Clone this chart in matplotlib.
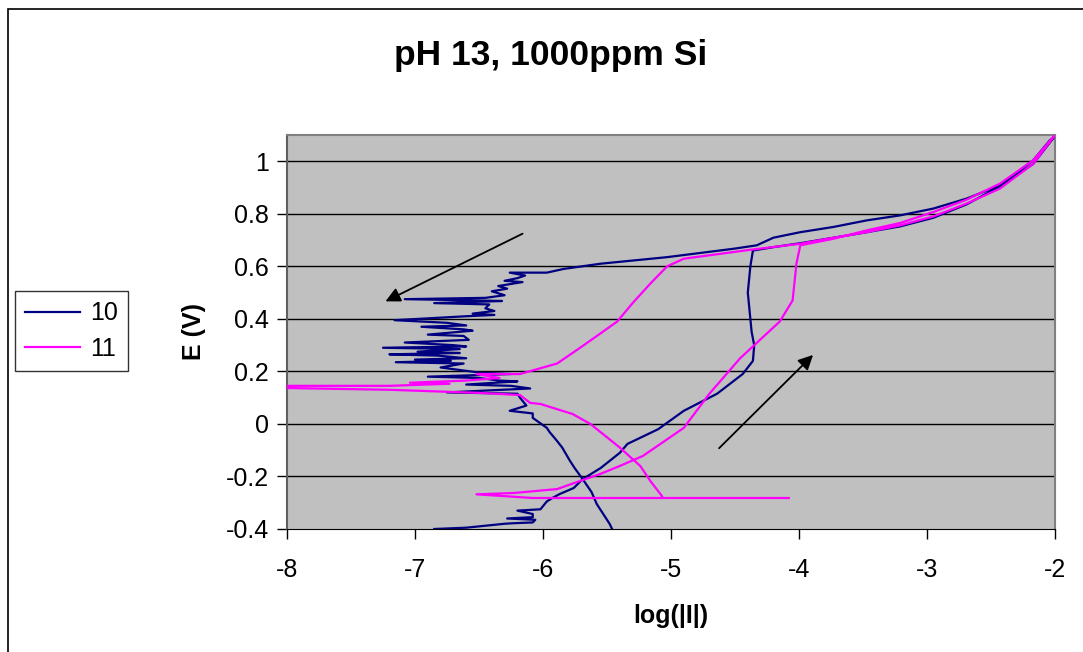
import matplotlib
matplotlib.use("Agg")
import matplotlib.pyplot as plt
from matplotlib.patches import Rectangle

plt.rcParams['font.family'] = ['Liberation Sans', 'DejaVu Sans']

# curve "10" (navy): forward scan from -0.4 V, then reverse scan back down
logI_10 = [-6.85, -6.6, -6.3, -6.23, -6.08, -6.06, -6.28, -6.08, -6.08, -6.2, -6.02, -5.97,
           -5.92, -5.87, -5.76, -5.69, -5.55, -5.4, -5.34, -5.1, -4.9, -4.64, -4.44, -4.36,
           -4.35, -4.37, -4.38, -4.39, -4.4, -4.39, -4.38, -4.36,
           -4.2, -3.99, -3.73, -3.47, -3.21, -2.95, -2.69, -2.43, -2.17, -2.01,
           -2.04, -2.17, -2.43, -2.69, -2.95, -3.21, -3.47, -3.73, -3.99, -4.2, -4.33, -4.51,
           -5.03, -5.55, -5.84, -5.97, -6.26, -6.14, -6.2, -6.3, -6.16, -6.35, -6.28, -6.4,
           -6.3, -6.45, -7.08, -6.5, -6.32, -6.85, -6.42, -6.45, -6.38, -6.55, -6.38, -6.6,
           -7.16, -6.75, -6.6, -6.95, -6.62, -6.55, -6.9, -6.62, -6.58, -7.08, -6.7, -6.6,
           -7.25, -6.65, -6.98, -6.65, -7.2, -6.82, -6.6, -7.0, -6.72, -7.15, -6.62, -6.8,
           -6.49, -6.25, -6.9, -6.5, -6.34, -6.2, -6.6, -6.25, -6.1, -6.75, -6.2, -6.18,
           -6.13, -6.26, -6.08, -6.08, -5.97, -5.95, -5.89, -5.85, -5.79, -5.75, -5.69, -5.62,
           -5.58, -5.52, -5.48, -5.46]
E_10 = [-0.40, -0.395, -0.38, -0.378, -0.375, -0.365, -0.36, -0.355, -0.343, -0.33, -0.325, -0.295,
        -0.28, -0.267, -0.244, -0.21, -0.168, -0.11, -0.076, -0.02, 0.05, 0.115, 0.19, 0.24,
        0.30, 0.35, 0.40, 0.45, 0.50, 0.55, 0.60, 0.66,
        0.673, 0.688, 0.709, 0.73, 0.752, 0.785, 0.836, 0.905, 0.99, 1.09,
        1.08, 1.004, 0.908, 0.858, 0.82, 0.794, 0.775, 0.75, 0.73, 0.709, 0.68, 0.667,
        0.635, 0.61, 0.59, 0.576, 0.576, 0.565, 0.555, 0.545, 0.54, 0.525, 0.515, 0.505,
        0.49, 0.48, 0.475, 0.47, 0.468, 0.46, 0.455, 0.44, 0.43, 0.42, 0.415, 0.41,
        0.395, 0.385, 0.375, 0.37, 0.36, 0.355, 0.34, 0.335, 0.32, 0.31, 0.30, 0.295,
        0.29, 0.285, 0.275, 0.27, 0.265, 0.26, 0.25, 0.245, 0.24, 0.235, 0.23, 0.215,
        0.195, 0.19, 0.18, 0.175, 0.165, 0.162, 0.15, 0.145, 0.135, 0.12, 0.115, 0.10,
        0.07, 0.05, 0.04, 0.023, -0.015, -0.03, -0.065, -0.09, -0.14, -0.17, -0.21, -0.26,
        -0.305, -0.35, -0.38, -0.40]

# curve "11" (magenta)
logI_11 = [-4.08, -6.08, -6.52, -6.23, -5.89, -5.71, -5.55, -5.4, -5.22, -4.9, -4.7, -4.46,
           -4.15, -4.05, -4.02, -3.99, -3.73, -3.47, -3.21, -2.95, -2.69, -2.43, -2.17, -2.0,
           -2.17, -2.43, -2.69, -2.95, -3.21, -3.47, -3.73, -3.99, -4.38, -4.9, -5.03, -5.16,
           -5.3, -5.42, -5.55, -5.71, -5.89, -6.18, -6.52, -6.34, -6.6, -7.04, -6.73, -7.2,
           -9.0, -7.2, -6.49, -6.18, -6.1, -6.02, -5.77, -5.63, -5.4, -5.24, -5.16, -5.07]
E_11 = [-0.282, -0.282, -0.268, -0.263, -0.248, -0.217, -0.19, -0.16, -0.122, -0.015, 0.115, 0.25,
        0.39, 0.47, 0.61, 0.68, 0.705, 0.737, 0.765, 0.807, 0.854, 0.915, 1.004, 1.10,
        0.99, 0.896, 0.839, 0.79, 0.756, 0.73, 0.709, 0.686, 0.663, 0.629, 0.60, 0.535,
        0.46, 0.39, 0.345, 0.29, 0.23, 0.19, 0.19, 0.175, 0.165, 0.157, 0.153, 0.145,
        0.145, 0.13, 0.118, 0.11, 0.08, 0.076, 0.038, 0.0, -0.09, -0.16, -0.218, -0.275]

xticks = [-8, -7, -6, -5, -4, -3, -2]
xtick_labels = ['-8', '-7', '-6', '-5', '-4', '-3', '-2']
yticks = [-0.4, -0.2, 0, 0.2, 0.4, 0.6, 0.8, 1]
ytick_labels = ['-0.4', '-0.2', '0', '0.2', '0.4', '0.6', '0.8', '1']

W, H = 1083, 652
fig = plt.figure(figsize=(W / 100, H / 100), dpi=100)
ax = fig.add_axes([287 / W, 1 - 529 / H, (1055 - 287) / W, (529 - 135) / H])
ax.set_facecolor('#C0C0C0')

for y in yticks[1:]:
    ax.axhline(y, color='black', lw=1.0, zorder=1)

ax.plot(logI_10, E_10, color='#000080', lw=1.6, label='10', zorder=3)
ax.plot(logI_11, E_11, color='#FF00FF', lw=1.6, label='11', zorder=3)

# scan direction arrows
ax.annotate('', xy=(-7.25, 0.462), xytext=(-6.14, 0.729),
            arrowprops=dict(arrowstyle='-|>', color='black', lw=1.3, mutation_scale=22))
ax.annotate('', xy=(-3.875, 0.27), xytext=(-4.64, -0.10),
            arrowprops=dict(arrowstyle='-|>', color='black', lw=1.3, mutation_scale=22))

ax.set_xlim(-8, -2)
ax.set_ylim(-0.4, 1.1)
ax.set_xticks(xticks)
ax.set_xticklabels(xtick_labels)
ax.set_yticks(yticks)
ax.set_yticklabels(ytick_labels)
ax.tick_params(direction='out', length=7, width=1, labelsize=18)
ax.tick_params(axis='x', pad=14)
ax.tick_params(axis='y', pad=6)

for side in ['top', 'right', 'left']:
    ax.spines[side].set_color('#808080')
    ax.spines[side].set_linewidth(1.5)
ax.spines['left'].set_color('#606060')
ax.spines['bottom'].set_color('black')

ax.set_xlabel('log(|I|)', fontsize=18, fontweight='bold', labelpad=16)
ax.set_ylabel('E (V)', fontsize=18, fontweight='bold', labelpad=14)

fig.text(551 / W, 1 - 55 / H, 'pH 13, 1000ppm Si', fontsize=25.5, fontweight='bold',
         ha='center', va='center')

leg = fig.legend(loc='center left', bbox_to_anchor=(15 / W, 1 - 331 / H), fontsize=18,
                 frameon=True, fancybox=False, edgecolor='black', handlelength=2.2,
                 borderpad=0.4, labelspacing=0.45, handletextpad=0.4, borderaxespad=0)
leg.get_frame().set_linewidth(1.0)

# chart area border (only left and top edges visible in the picture)
fig.add_artist(Rectangle((8 / W, -0.1), 1.2, 1.1 - 9 / H, transform=fig.transFigure,
                         fill=False, edgecolor='black', lw=1.2))

fig.savefig('out.png', dpi=100)
